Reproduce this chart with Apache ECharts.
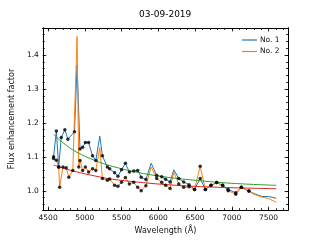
<!DOCTYPE html>
<html><head><meta charset="utf-8">
<script src="https://cdn.jsdelivr.net/npm/echarts@6/dist/echarts.min.js"></script>
<style>html,body{margin:0;padding:0;background:#fff}#c{width:320px;height:240px}</style>
</head><body><div id="c"></div>
<script>
// ---- data ----
const lam1 = [4574,4612,4644,4679,4728,4769,4859,4894,4934,4970,5007,5051,5105,5149,5203,5239,5306,5337,5405,5450,5499,5552,5606,5665,5719,5767,5831,5902,5978,6046,6099,6160,6211,6278,6345,6418,6493,6570,6640,6717,6794,6875,6950,7054,7130,7233,7300,7413,7501,7605];
const no1  = [1.100,1.176,1.070,1.157,1.180,1.152,1.174,1.370,1.123,1.128,1.142,1.142,1.103,1.089,1.161,1.103,1.070,1.065,1.053,1.043,1.062,1.081,1.055,1.058,1.060,1.040,1.033,1.081,1.045,1.041,1.034,1.026,1.062,1.036,1.026,1.018,1.004,1.036,1.004,1.016,1.024,1.016,1.004,0.994,1.010,0.999,0.992,0.983,0.983,0.978];
const lam2 = [4574,4612,4644,4657,4702,4746,4782,4836,4894,4917,4934,4970,5007,5051,5105,5149,5203,5239,5306,5337,5405,5450,5499,5552,5606,5665,5719,5767,5831,5902,5978,6046,6099,6160,6211,6278,6345,6418,6493,6570,6640,6717,6794,6875,6950,7054,7130,7233,7300,7413,7501,7605];
const no2  = [1.095,1.090,1.070,1.010,1.070,1.068,1.040,1.060,1.455,1.070,1.089,1.060,1.070,1.055,1.065,1.060,1.127,1.036,1.031,1.035,1.016,1.013,1.025,1.039,1.020,1.025,1.010,1.000,1.015,1.070,1.036,1.025,1.016,1.007,1.055,1.020,1.010,1.012,1.004,1.072,1.004,1.016,1.024,1.016,1.000,0.990,1.010,0.999,0.990,0.981,0.977,0.966];
// points not marked with black dots (emission peaks) and last marked wavelength
const unmarked = [4894,5203,5902,6211];
const lastMarked = 7233;
// fitted curves
const fitLam  = [4574,4700,4880,5150,5375,5700,6050,6500,7000,7605];
const fitNo1  = [1.166,1.142,1.115,1.088,1.072,1.055,1.042,1.031,1.022,1.016];
const fitNo2  = [1.076,1.067,1.056,1.043,1.034,1.026,1.019,1.013,1.009,1.006];
const xMajor = [4500,5000,5500,6000,6500,7000,7500];
const yMajor = [1.0,1.1,1.2,1.3,1.4];
const titleText = '03-09-2019';
const xName = 'Wavelength (Å)';
const yName = 'Flux enhancement factor';

// ---- build ----
const pairs = (xs, ys) => xs.map((x,i)=>[x, ys[i]]);
const marked = (xs, ys) => xs.map((x,i)=>[x,ys[i]]).filter(p => p[0] <= lastMarked && !unmarked.includes(p[0]));
const xMinor = []; for (let v = 4500; v <= 7700; v += 100) xMinor.push(v);
const yMinor = []; for (let k = 48; k <= 73; k++) yMinor.push(+(k*0.02).toFixed(2));

const FONT = 'DejaVu Sans';
const XMIN = 4428, XMAX = 7765, YMIN = 0.943, YMAX = 1.4797;
const black = '#000';
function xAx(pos, vals, len, labels, extra) {
  return Object.assign({
    type:'value', position: pos, min: XMIN, max: XMAX,
    axisLine:{show: true, onZero:false, lineStyle:{color:black, width:1}},
    axisTick:{show:true, inside:true, length:len, customValues: vals, lineStyle:{color:black, width:0.8}},
    axisLabel:{show: labels, customValues: vals, color:'#111', fontSize:7.5, fontFamily:FONT, margin:4,
      formatter: v => String(Math.round(v))},
    splitLine:{show:false}
  }, extra||{});
}
function yAx(pos, vals, len, labels, extra) {
  return Object.assign({
    type:'value', position: pos, min: YMIN, max: YMAX,
    axisLine:{show: true, onZero:false, lineStyle:{color:black, width:1}},
    axisTick:{show:true, inside:true, length:len, customValues: vals, lineStyle:{color:black, width:0.8}},
    axisLabel:{show: labels, customValues: vals, color:'#111', fontSize:7.5, fontFamily:FONT, margin:4,
      formatter: v => v.toFixed(1)},
    splitLine:{show:false}
  }, extra||{});
}

const chart = echarts.init(document.getElementById('c'), null, {renderer:'canvas'});
chart.setOption({
  animation:false,
  backgroundColor:'#fff',
  title:{text:titleText, left:134, top:5,
    textStyle:{fontSize:9, fontWeight:'normal', color:'#000', fontFamily:FONT}},
  grid:{left:40, right:32, top:28, bottom:27, containLabel:false},
  legend:{
    data:['No. 1','No. 2'], orient:'vertical', left:237, top:31, itemGap:3.5,
    icon:'rect', itemWidth:15, itemHeight:1.2,
    textStyle:{fontSize:7.5, color:'#111', fontFamily:FONT, padding:[0,0,0,-2]}
  },
  xAxis:[
    xAx('bottom', xMajor, 3.5, true, {name:xName, nameLocation:'middle', nameGap:16,
      nameTextStyle:{fontSize:8, color:'#111', fontFamily:FONT}}),
    xAx('bottom', xMinor, 2, false),
    xAx('top', xMajor, 3.5, false),
    xAx('top', xMinor, 2, false)
  ],
  yAxis:[
    yAx('left', yMajor, 3.5, true, {name:yName, nameLocation:'middle', nameGap:21,
      nameTextStyle:{fontSize:8, color:'#111', fontFamily:FONT}}),
    yAx('left', yMinor, 2, false),
    yAx('right', yMajor, 3.5, false),
    yAx('right', yMinor, 2, false)
  ],
  series:[
    {name:'No. 1', type:'line', data:pairs(lam1,no1), showSymbol:false, symbol:'none',
      lineStyle:{color:'#1f77b4', width:1}, itemStyle:{color:'#1f77b4'}, z:2},
    {name:'No. 2', type:'line', data:pairs(lam2,no2), showSymbol:false, symbol:'none',
      lineStyle:{color:'#ff7f0e', width:1}, itemStyle:{color:'#ff7f0e'}, z:3},
    {name:'fit1', type:'line', data:pairs(fitLam,fitNo1), showSymbol:false, symbol:'none', smooth:0.4,
      lineStyle:{color:'#2ca02c', width:1}, z:4},
    {name:'fit2', type:'line', data:pairs(fitLam,fitNo2), showSymbol:false, symbol:'none', smooth:0.4,
      lineStyle:{color:'#d62728', width:1}, z:4},
    {name:'pts1', type:'scatter', data:marked(lam1,no1), symbolSize:3.5, itemStyle:{color:'#000'}, z:5},
    {name:'pts2', type:'scatter', data:marked(lam2,no2), symbolSize:3.5, itemStyle:{color:'#000'}, z:5}
  ]
});
</script></body></html>
